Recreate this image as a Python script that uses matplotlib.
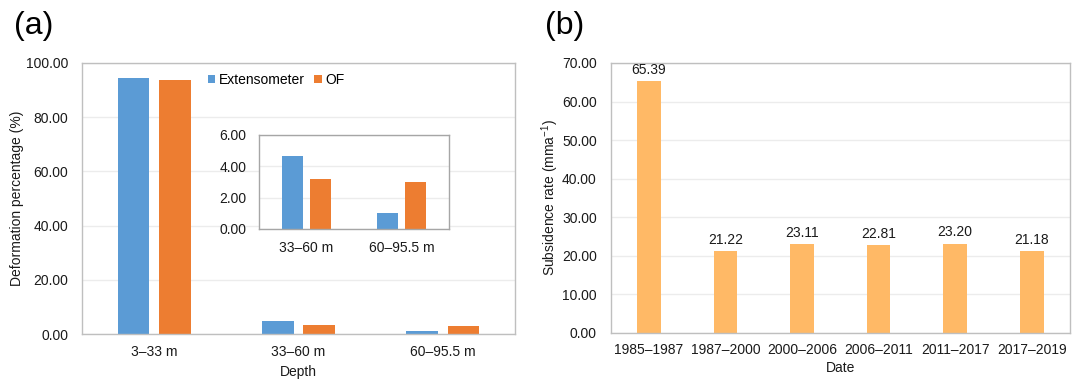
import matplotlib
matplotlib.use("Agg")
import matplotlib.pyplot as plt
import numpy as np

plt.rcParams['font.family'] = ['Liberation Sans', 'DejaVu Sans']
plt.rcParams['mathtext.fontset'] = 'custom'
plt.rcParams['mathtext.rm'] = 'Liberation Sans'
plt.rcParams['mathtext.default'] = 'regular'

# Panel (a) data
depth_cats = ["3–33 m", "33–60 m", "60–95.5 m"]
extensometer = [94.31, 4.65, 1.04]
of_vals = [93.83, 3.19, 2.98]
inset_cats = ["33–60 m", "60–95.5 m"]
inset_ext = [4.65, 1.04]
inset_of = [3.19, 2.98]

# Panel (b) data
periods = ["1985–1987", "1987–2000", "2000–2006", "2006–2011", "2011–2017", "2017–2019"]
rates = [65.39, 21.22, 23.11, 22.81, 23.20, 21.18]

BLUE = "#5b9bd5"
ORANGE = "#ed7d31"
LIGHT_ORANGE = "#ffb966"
SPINE = "#bfbfbf"
GRID = "#ececec"
TXT = "#1a1a1a"

fig = plt.figure(figsize=(10.72, 3.8), dpi=100)

def style(ax, spine_color=SPINE):
    for s in ax.spines.values():
        s.set_color(spine_color)
        s.set_linewidth(1.0)
    ax.tick_params(length=0, colors=TXT, labelsize=10)
    ax.yaxis.grid(True, color=GRID, linewidth=1.0)
    ax.set_axisbelow(True)

# ---- Panel (a)
axa = fig.add_axes([82/1072, 1-334/380, 433/1072, 271/380])
style(axa)
x = np.arange(len(depth_cats))
w = 0.22
off = 0.143
axa.bar(x - off, extensometer, w, color=BLUE, label="Extensometer")
axa.bar(x + off, of_vals, w, color=ORANGE, label="OF")
axa.set_xlim(-0.5, 2.5)
axa.set_ylim(0, 100)
axa.set_yticks(np.arange(0, 101, 20))
axa.set_yticklabels([f"{v:.2f}" for v in np.arange(0, 101, 20)])
axa.set_xticks(x)
axa.set_xticklabels(depth_cats)
axa.tick_params(axis='y', pad=10)
axa.tick_params(axis='x', pad=8)
axa.set_xlabel("Depth", fontsize=10, color=TXT, labelpad=4)
axa.set_ylabel("Deformation percentage (%)", fontsize=10, color=TXT, labelpad=1)
axa.legend(loc="center left", bbox_to_anchor=(0.29, 0.937), frameon=False,
           fontsize=10, handlelength=0.55, handleheight=0.55, handletextpad=0.25,
           columnspacing=0.7, ncol=2, borderpad=0, borderaxespad=0)
fig.text(14/1072, 1-26/380, "(a)", fontsize=23, va="center", ha="left", color="black")

# ---- Inset
axi = fig.add_axes([259/1072, 1-229/380, 190/1072, 94/380])
style(axi, spine_color="#a6a6a6")
axi.set_facecolor("white")
xi = np.arange(len(inset_cats))
axi.bar(xi - off, inset_ext, w, color=BLUE)
axi.bar(xi + off, inset_of, w, color=ORANGE)
axi.set_xlim(-0.5, 1.5)
axi.set_ylim(0, 6)
axi.set_yticks([0, 2, 4, 6])
axi.set_yticklabels([f"{v:.2f}" for v in [0, 2, 4, 6]])
axi.set_xticks(xi)
axi.set_xticklabels(inset_cats)
axi.tick_params(axis='y', pad=9)
axi.tick_params(axis='x', pad=9)

# ---- Panel (b)
axb = fig.add_axes([610.7/1072, 1-333/380, 459.3/1072, 270/380])
style(axb)
xb = np.arange(len(periods))
bars = axb.bar(xb, rates, 0.31, color=LIGHT_ORANGE)
axb.bar_label(bars, labels=[f"{v:.2f}" for v in rates], padding=3, fontsize=10, color=TXT)
axb.set_xlim(-0.5, len(periods) - 0.5)
axb.set_ylim(0, 70)
axb.set_yticks(np.arange(0, 71, 10))
axb.set_yticklabels([f"{v:.2f}" for v in np.arange(0, 71, 10)])
axb.set_xticks(xb)
axb.set_xticklabels(periods)
axb.tick_params(axis='y', pad=10)
axb.tick_params(axis='x', pad=7)
axb.set_xlabel("Date", fontsize=10, color=TXT, labelpad=3)
axb.set_ylabel("Subsidence rate (mma$^{-1}$)", fontsize=10, color=TXT, labelpad=1)
fig.text(545/1072, 1-26/380, "(b)", fontsize=23, va="center", ha="left", color="black")

fig.savefig("out.png", dpi=100)
